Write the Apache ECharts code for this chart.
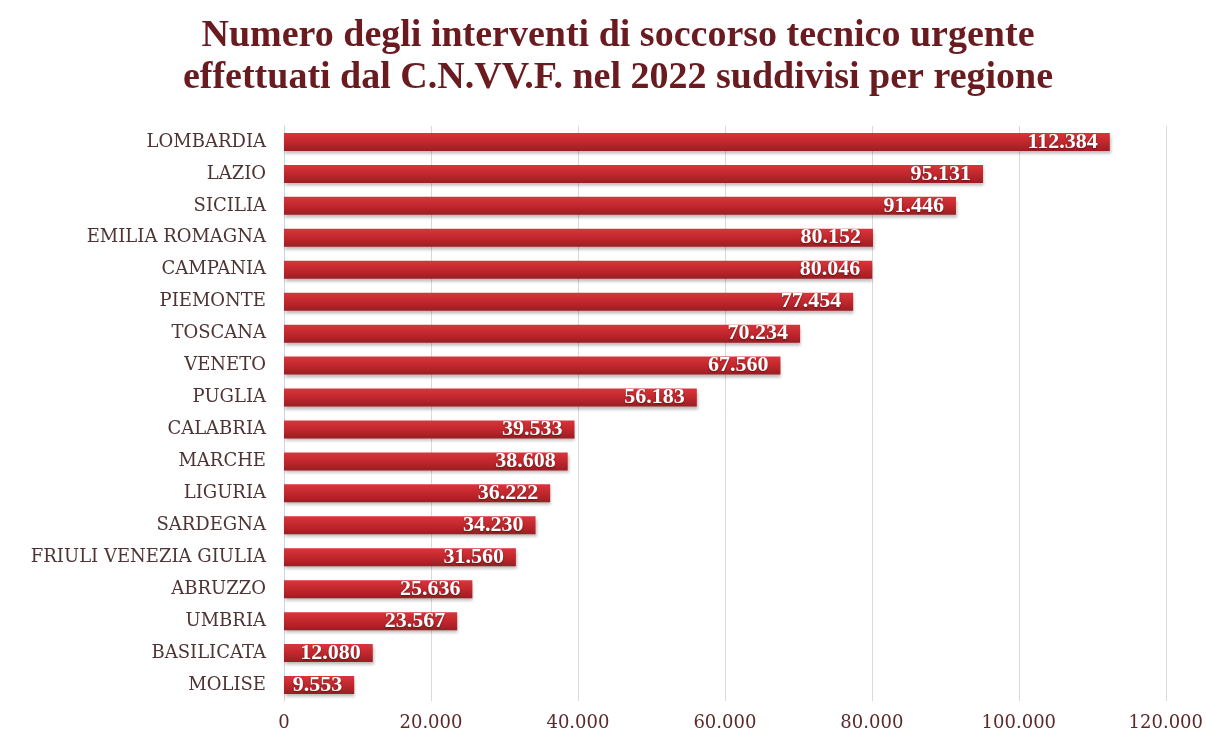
<!DOCTYPE html>
<html>
<head>
<meta charset="utf-8">
<script src="https://cdn.jsdelivr.net/npm/echarts@6/dist/echarts.min.js"></script>
<style>
  html, body { margin: 0; padding: 0; background: #fff; }
  #chart { width: 1206px; height: 733px; }
</style>
</head>
<body>
<div id="chart"></div>
<script>
// regions, top to bottom as shown in the picture
const regions = [
  'LOMBARDIA', 'LAZIO', 'SICILIA', 'EMILIA ROMAGNA', 'CAMPANIA', 'PIEMONTE',
  'TOSCANA', 'VENETO', 'PUGLIA', 'CALABRIA', 'MARCHE', 'LIGURIA', 'SARDEGNA',
  'FRIULI VENEZIA GIULIA', 'ABRUZZO', 'UMBRIA', 'BASILICATA', 'MOLISE'
];
const interventi = [
  112384, 95131, 91446, 80152, 80046, 77454,
  70234, 67560, 56183, 39533, 38608, 36222, 34230,
  31560, 25636, 23567, 12080, 9553
];
const titleLines = [
  'Numero degli interventi di soccorso tecnico urgente',
  'effettuati dal C.N.VV.F. nel 2022 suddivisi per regione'
];

const serif = '"Liberation Serif", "DejaVu Serif", serif';
const wideSerif = '"DejaVu Serif", "Liberation Serif", serif';

// italian thousands separator
function fmt(v) {
  return String(v).replace(/\B(?=(\d{3})+(?!\d))/g, '.');
}

const chart = echarts.init(document.getElementById('chart'));

chart.setOption({
  backgroundColor: '#ffffff',
  title: {
    text: titleLines.join('\n'),
    left: 613,
    top: 10,
    textAlign: 'center',
    textStyle: {
      color: '#6a1b1f',
      fontFamily: serif,
      fontWeight: 'bold',
      fontSize: 38,
      lineHeight: 42
    }
  },
  grid: {
    left: 284,
    right: 40,
    top: 126,
    bottom: 32,
    containLabel: false
  },
  xAxis: {
    type: 'value',
    min: 0,
    max: 120000,
    interval: 20000,
    axisLine: { show: false },
    axisTick: { show: false },
    axisLabel: {
      color: '#5a2a2a',
      fontFamily: wideSerif,
      fontSize: 18,
      margin: 13,
      formatter: fmt
    },
    splitLine: {
      lineStyle: { color: '#d9d9d9', width: 1 }
    }
  },
  yAxis: {
    type: 'category',
    inverse: true,
    data: regions,
    axisLine: { show: true, lineStyle: { color: '#c9d6e3', width: 1 } },
    axisTick: { show: false },
    axisLabel: {
      color: '#4e3434',
      fontFamily: wideSerif,
      fontSize: 18,
      margin: 18
    }
  },
  series: [
    {
      type: 'bar',
      data: interventi,
      barWidth: 18,
      itemStyle: {
        color: new echarts.graphic.LinearGradient(0, 0, 0, 1, [
          { offset: 0, color: '#d8353b' },
          { offset: 0.5, color: '#c1272d' },
          { offset: 1, color: '#9c1d22' }
        ]),
        shadowColor: 'rgba(60, 60, 60, 0.35)',
        shadowBlur: 3,
        shadowOffsetX: 1,
        shadowOffsetY: 3
      },
      label: {
        show: true,
        position: 'insideRight',
        distance: 12,
        color: '#ffffff',
        fontFamily: serif,
        fontWeight: 'bold',
        fontSize: 22,
        textShadowColor: 'rgba(0,0,0,0.45)',
        textShadowBlur: 2,
        textShadowOffsetY: 1,
        formatter: (p) => fmt(p.value)
      }
    }
  ]
});
</script>
</body>
</html>
